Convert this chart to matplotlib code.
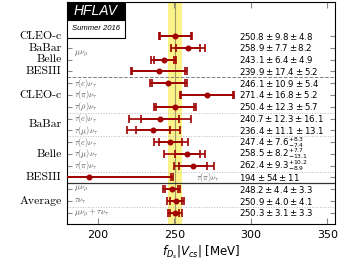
import numpy as np
import matplotlib.pyplot as plt
from matplotlib.patches import Rectangle

# Measurements, top to bottom
rows = np.arange(1, 17)
channels = [r"$\mu\nu_\mu$", "", "", "",
            r"$\tau(e)\nu_\tau$", r"$\tau(\pi)\nu_\tau$", r"$\tau(\rho)\nu_\tau$",
            r"$\tau(e)\nu_\tau$", r"$\tau(\mu)\nu_\tau$",
            r"$\tau(e)\nu_\tau$", r"$\tau(\mu)\nu_\tau$", r"$\tau(\pi)\nu_\tau$",
            r"$\tau(\pi)\nu_\tau$",
            r"$\mu\nu_\mu$", r"$\tau\nu_\tau$", r"$\mu\nu_\mu + \tau\nu_\tau$"]
central = [250.8, 258.9, 243.1, 239.9, 246.1, 271.4, 250.4, 240.7, 236.4,
           247.4, 258.5, 262.4, 194.0, 248.2, 250.9, 250.3]
stat = [9.8, 7.7, 6.4, 17.4, 10.9, 16.8, 12.3, 12.3, 11.1,
        7.6, 8.2, 9.3, 54.0, 4.4, 4.0, 3.1]
syst_hi = [4.8, 8.2, 4.9, 5.2, 5.4, 5.2, 5.7, 16.1, 13.1,
           8.3, 7.7, 10.2, 11.0, 3.3, 4.1, 3.3]
syst_lo = [4.8, 8.2, 4.9, 5.2, 5.4, 5.2, 5.7, 16.1, 13.1,
           7.4, 13.1, 8.9, 11.0, 3.3, 4.1, 3.3]
value_text = [r"$250.8 \pm 9.8 \pm 4.8$", r"$258.9 \pm 7.7 \pm 8.2$",
              r"$243.1 \pm 6.4 \pm 4.9$", r"$239.9 \pm 17.4 \pm 5.2$",
              r"$246.1 \pm 10.9 \pm 5.4$", r"$271.4 \pm 16.8 \pm 5.2$",
              r"$250.4 \pm 12.3 \pm 5.7$", r"$240.7 \pm 12.3 \pm 16.1$",
              r"$236.4 \pm 11.1 \pm 13.1$", r"$247.4 \pm 7.6^{+8.3}_{-7.4}$",
              r"$258.5 \pm 8.2^{+7.7}_{-13.1}$", r"$262.4 \pm 9.3^{+10.2}_{-8.9}$",
              r"$194 \pm 54 \pm 11$", r"$248.2 \pm 4.4 \pm 3.3$",
              r"$250.9 \pm 4.0 \pm 4.1$", r"$250.3 \pm 3.1 \pm 3.3$"]

groups = ["CLEO-c", "BaBar", "Belle", "BESIII", "CLEO-c", "BaBar", "Belle", "BESIII", "Average"]
group_rows = [1, 2, 3, 4, 6, 8.5, 11, 13, 15]

world_avg = 250.3
world_err = 4.5

red = "#a00000"

fig, ax = plt.subplots(figsize=(3.44, 2.68), dpi=100)
fig.subplots_adjust(left=0.195, right=0.974, top=0.993, bottom=0.164)

ax.axvspan(world_avg - world_err, world_avg + world_err, color="#fbf38a", lw=0, zorder=0)
ax.axvline(world_avg, color="#a09a60", lw=0.8, zorder=1)

central = np.array(central)
stat = np.array(stat)
tot_hi = np.sqrt(stat**2 + np.array(syst_hi)**2)
tot_lo = np.sqrt(stat**2 + np.array(syst_lo)**2)

ax.errorbar(central, rows, xerr=[tot_lo, tot_hi], fmt="none", ecolor=red,
            elinewidth=1.2, capsize=2.6, capthick=1.2, zorder=3)
ax.errorbar(central, rows, xerr=stat, fmt="o", color=red, ms=3.3,
            elinewidth=1.2, capsize=2.6, capthick=1.2, zorder=4)

# separators
ax.axhline(4.5, color="gray", ls="--", lw=0.7)
for y in [7.5, 9.5, 12.5, 15.5]:
    ax.axhline(y, color="#bbbbbb", ls=":", lw=0.7)
ax.axhline(13.5, color="#333333", lw=0.9)

# channel labels
for r, lab in zip(rows, channels):
    if not lab:
        continue
    y = 2.5 if r == 1 else r
    x = 264 if r == 13 else 184.5
    ax.text(x, y, lab, fontsize=6, color="#555555", va="center", ha="left",
            math_fontfamily="cm")

for r, txt in zip(rows, value_text):
    ax.text(292, r, txt, fontsize=6.2, va="center", ha="left")

for r, g in zip(group_rows, groups):
    ax.text(-0.02, r, g, transform=ax.get_yaxis_transform(), ha="right",
            va="center", fontsize=8.5, family="cmr10")

ax.set_xlim(180, 355)
ax.set_ylim(16.95, -1.9)
ax.set_xticks([200, 250, 300, 350])
ax.set_yticks(rows)
ax.tick_params(axis="x", direction="in", top=True, length=4, color="#888888",
               labelsize=8, pad=4)
ax.tick_params(axis="y", direction="in", left=True, right=True, length=3.5,
               color="#888888", labelleft=False)
ax.set_xlabel(r"$f_{D_s}|V_{cs}|$ [MeV]", fontsize=8.5, labelpad=3)

# HFLAV logo
ax.add_patch(Rectangle((0, 0.919), 0.216, 0.081, transform=ax.transAxes,
                       facecolor="black", edgecolor="black", lw=0.8, zorder=5))
ax.add_patch(Rectangle((0, 0.838), 0.216, 0.081, transform=ax.transAxes,
                       facecolor="white", edgecolor="black", lw=0.8, zorder=5))
ax.text(0.108, 0.959, "HFLAV", transform=ax.transAxes, color="white",
        fontsize=10, style="italic", family="Liberation Sans",
        ha="center", va="center", zorder=6)
ax.text(0.108, 0.878, "Summer 2016", transform=ax.transAxes, color="black",
        fontsize=5.5, style="italic", family="Liberation Sans",
        ha="center", va="center", zorder=6)

plt.savefig("out.png", dpi=100)
